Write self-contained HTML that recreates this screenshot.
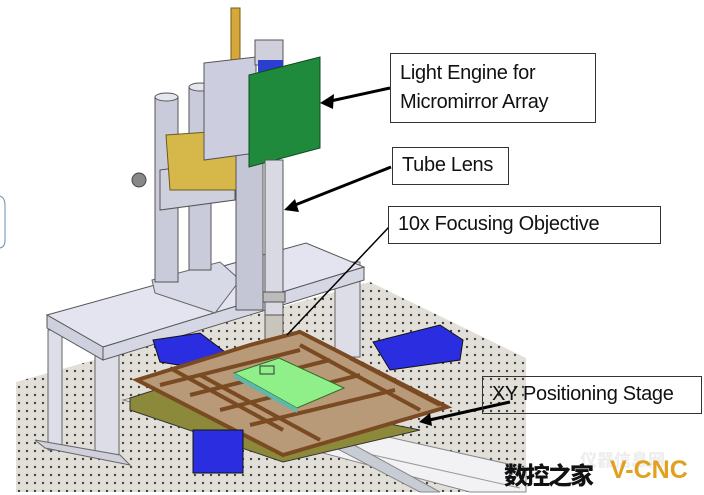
<!DOCTYPE html>
<html><head><meta charset="utf-8"><style>
html,body{margin:0;padding:0;background:#fff;width:704px;height:495px;overflow:hidden}
.lbl{position:absolute;border:1.5px solid #333;background:#fff;font-family:"Liberation Sans",sans-serif;font-size:20px;color:#111;box-sizing:border-box;padding-left:9px;line-height:29px;letter-spacing:-0.3px}
.wm{position:absolute;font-family:"Liberation Sans","Noto Sans CJK SC",sans-serif;font-weight:900}
</style></head><body>
<svg width="704" height="495" style="position:absolute;left:0;top:0">
<defs>
<pattern id="dots" width="8" height="8" patternUnits="userSpaceOnUse">
<rect width="8" height="8" fill="#e2dfd8"/><circle cx="3" cy="3" r="1.2" fill="#444"/></pattern>
</defs>
<polygon points="16,382 370,282 526,358 526,492 16,492" fill="url(#dots)"/>
<polygon points="123,400 170,388 526,468 526,492 470,492" fill="#f2f2f4" stroke="#888"/>
<line x1="150" y1="405" x2="520" y2="488" stroke="#999"/>
<polygon points="330,445 345,440 440,492 420,492" fill="#c8ccd4" stroke="#888"/>
<rect x="48" y="330" width="14" height="120" fill="#dcdde6" stroke="#666"/>
<rect x="95" y="345" width="24" height="112" fill="#dcdde6" stroke="#666"/>
<polygon points="35,440 120,455 130,465 45,448" fill="#d0d0dc" stroke="#666"/>
<rect x="335" y="262" width="25" height="95" fill="#dcdde6" stroke="#666"/>
<polygon points="47,315 306,243 364,267 103,347" fill="#e4e4f0" stroke="#555"/>
<polygon points="47,315 103,347 103,360 47,328" fill="#cfd0dd" stroke="#555"/>
<polygon points="103,347 364,267 364,280 103,360" fill="#d6d7e4" stroke="#555"/>
<polygon points="152,280 220,262 240,280 215,313 155,293" fill="#d8d9e6" stroke="#666"/>
<rect x="155" y="97" width="23" height="185" fill="#c9cbda" stroke="#555"/>
<ellipse cx="166.5" cy="97" rx="11.5" ry="4" fill="#e6e6ef" stroke="#555"/>
<rect x="189" y="87" width="22" height="183" fill="#c9cbda" stroke="#555"/>
<ellipse cx="200" cy="87" rx="11" ry="4" fill="#e6e6ef" stroke="#555"/>
<polygon points="160,170 235,160 235,200 160,210" fill="#cfd0dd" stroke="#555"/>
<circle cx="139" cy="180" r="7" fill="#888" stroke="#444"/>
<polygon points="166,135 238,130 238,190 170,190" fill="#d6b84a" stroke="#6b5a1a"/>
<rect x="236" y="150" width="27" height="160" fill="#c4c6d6" stroke="#555"/>
<rect x="231" y="8" width="9" height="58" fill="#d4a83a" stroke="#7a5b10"/>
<polygon points="204,63 256,57 256,153 204,160" fill="#cccdde" stroke="#555"/>
<rect x="255" y="40" width="28" height="25" fill="#d0d0dc" stroke="#555"/>
<rect x="258" y="60" width="25" height="14" fill="#2a3fd0"/>
<polygon points="249,75 320,57 320,148 249,167" fill="#1f8a3c" stroke="#0e4a1e"/>
<rect x="265" y="160" width="18" height="190" fill="#d8d9e2" stroke="#555"/>
<rect x="263" y="292" width="22" height="10" fill="#bbb" stroke="#555"/>
<rect x="265" y="315" width="18" height="37" fill="#c9c5bd" stroke="#555"/>
<polygon points="153,340 200,333 225,352 210,370 160,362" fill="#2a2ee0" stroke="#111"/>
<polygon points="373,342 440,325 463,340 460,360 390,370" fill="#2a2ee0" stroke="#111"/>
<polygon points="130,398 180,382 420,430 283,462 130,410" fill="#8c8a3a" stroke="#333"/>
<polygon points="137,380 250,345 300,332 447,407 283,455" fill="#b89a78" stroke="#3a2410"/>
<g stroke="#7a4a22" stroke-width="4" fill="none">
<polygon points="137,380 250,345 300,332 447,407 283,455"/>
<line x1="160" y1="385" x2="300" y2="350"/><line x1="190" y1="395" x2="330" y2="360"/>
<line x1="220" y1="410" x2="360" y2="375"/><line x1="250" y1="425" x2="395" y2="390"/>
<line x1="200" y1="375" x2="320" y2="440"/><line x1="300" y1="345" x2="420" y2="410"/>
<line x1="170" y1="368" x2="283" y2="430"/><line x1="350" y1="358" x2="440" y2="405"/>
</g>
<rect x="193" y="430" width="50" height="43" fill="#2a2ee0" stroke="#111"/>
<polygon points="234,373 279,358 344,388 297,408" fill="#8ff08a" stroke="#2f6a2a"/>
<polygon points="234,373 297,408 297,413 234,378" fill="#5fb8a8"/>
<rect x="260" y="366" width="14" height="8" fill="none" stroke="#333"/>
<g stroke="#000" stroke-width="3" fill="none">
<line x1="390" y1="88" x2="326" y2="102"/>
<line x1="391" y1="167" x2="290" y2="207"/>
<line x1="510" y1="402" x2="425" y2="421"/>
</g>
<line x1="389" y1="227" x2="287" y2="335" stroke="#000" stroke-width="1.5"/>
<polygon points="320,103 334,94 333,109" fill="#000"/>
<polygon points="284,210 295,199 299,212" fill="#000"/>
<polygon points="419,422 430,413 432,426" fill="#000"/>
<path d="M0,196 Q5,198 5,205 L5,240 Q5,247 0,248" fill="none" stroke="#6a8fb0" stroke-width="1"/>
</svg>
<div class="lbl" style="left:390px;top:53px;width:206px;height:70px;padding-top:5px">Light Engine for<br>Micromirror Array</div>
<div class="lbl" style="left:392px;top:147px;width:117px;height:38px;padding-top:3px">Tube Lens</div>
<div class="lbl" style="left:388px;top:206px;width:273px;height:38px;padding-top:3px">10x Focusing Objective</div>
<div class="lbl" style="left:482px;top:376px;width:220px;height:38px;padding-top:3px;background:transparent">XY Positioning Stage</div>
<div class="wm" style="left:580px;top:446px;font-size:17px;color:#eee">仪器信息网</div>
<div class="wm" style="left:504px;top:456px;font-size:24px;color:#111;letter-spacing:-2px">数控之家</div>
<div class="wm" style="left:610px;top:456px;font-size:25px;color:#e0a020">V-CNC</div>
</body></html>
